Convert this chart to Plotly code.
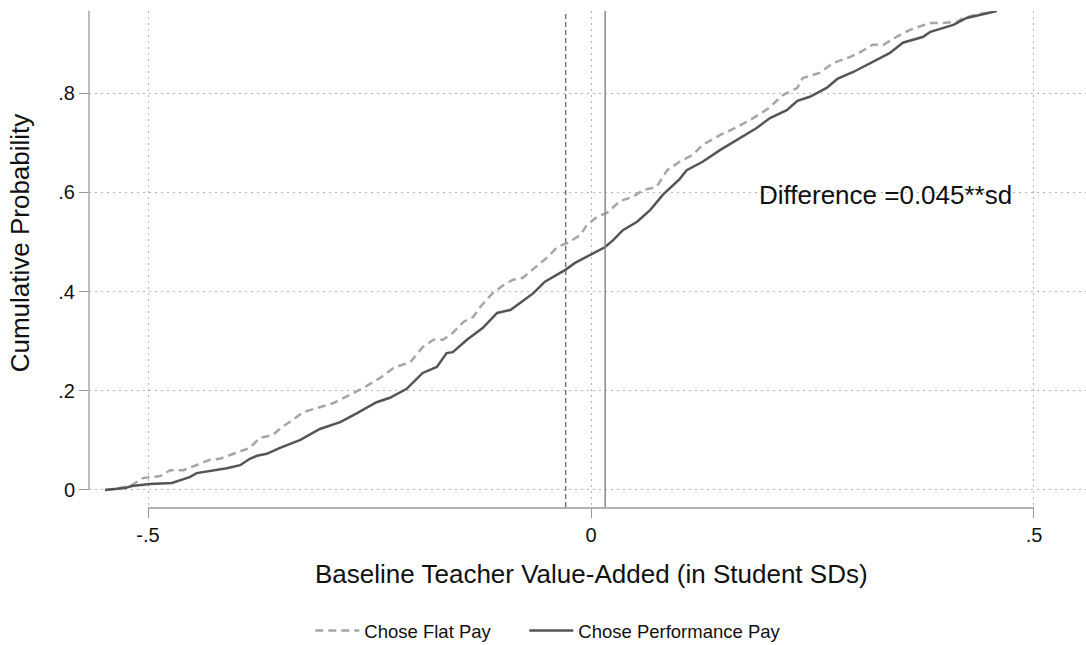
import plotly.graph_objects as go

flat_x = [-0.5485, -0.532, -0.518, -0.506, -0.486, -0.475, -0.460, -0.445, -0.430, -0.419,
          -0.407, -0.396, -0.385, -0.374, -0.359, -0.349, -0.340, -0.325, -0.309, -0.291,
          -0.272, -0.253, -0.238, -0.223, -0.204, -0.190, -0.178, -0.167, -0.156, -0.144,
          -0.133, -0.125, -0.111, -0.099, -0.088, -0.077, -0.065, -0.050, -0.038, -0.027,
          -0.012, -0.005, 0.007, 0.018, 0.033, 0.047, 0.059, 0.074, 0.086, 0.100,
          0.115, 0.126, 0.146, 0.165, 0.183, 0.199, 0.217, 0.233, 0.239, 0.258,
          0.273, 0.292, 0.304, 0.318, 0.330, 0.345, 0.360, 0.383, 0.397, 0.413,
          0.420, 0.439, 0.454]
flat_y = [0.000, 0.004, 0.010, 0.024, 0.028, 0.040, 0.040, 0.050, 0.061, 0.063,
          0.071, 0.077, 0.085, 0.105, 0.111, 0.127, 0.137, 0.157, 0.165, 0.175,
          0.192, 0.210, 0.226, 0.246, 0.258, 0.288, 0.303, 0.303, 0.317, 0.339,
          0.349, 0.369, 0.397, 0.413, 0.424, 0.428, 0.446, 0.468, 0.490, 0.498,
          0.514, 0.534, 0.551, 0.559, 0.583, 0.591, 0.605, 0.611, 0.645, 0.662,
          0.676, 0.696, 0.716, 0.732, 0.750, 0.768, 0.797, 0.811, 0.831, 0.841,
          0.861, 0.873, 0.883, 0.898, 0.898, 0.914, 0.928, 0.942, 0.942, 0.944,
          0.952, 0.960, 0.964]

perf_x = [-0.5485, -0.526, -0.518, -0.498, -0.473, -0.467, -0.453, -0.445, -0.430, -0.411,
          -0.396, -0.385, -0.377, -0.366, -0.351, -0.328, -0.306, -0.283, -0.264, -0.242,
          -0.227, -0.208, -0.190, -0.174, -0.163, -0.156, -0.140, -0.122, -0.106, -0.091,
          -0.077, -0.065, -0.052, -0.038, -0.029, -0.018, -0.001, 0.016, 0.025, 0.036,
          0.052, 0.067, 0.081, 0.093, 0.100, 0.108, 0.126, 0.146, 0.168, 0.187,
          0.202, 0.221, 0.233, 0.247, 0.266, 0.278, 0.296, 0.315, 0.337, 0.352,
          0.375, 0.383, 0.409, 0.424, 0.439, 0.458]
perf_y = [0.000, 0.004, 0.008, 0.012, 0.014, 0.018, 0.026, 0.034, 0.038, 0.044,
          0.050, 0.063, 0.069, 0.073, 0.085, 0.101, 0.123, 0.137, 0.155, 0.177,
          0.186, 0.204, 0.236, 0.248, 0.276, 0.278, 0.303, 0.327, 0.357, 0.363,
          0.381, 0.397, 0.420, 0.434, 0.444, 0.458, 0.474, 0.490, 0.504, 0.524,
          0.541, 0.565, 0.595, 0.615, 0.627, 0.645, 0.662, 0.686, 0.710, 0.730,
          0.750, 0.766, 0.785, 0.793, 0.811, 0.829, 0.843, 0.861, 0.881, 0.902,
          0.914, 0.924, 0.938, 0.952, 0.958, 0.966]

# Group means (vertical reference lines)
mean_flat = -0.0286
mean_perf = 0.016

x_tickvals = [-0.5, 0, 0.5]
x_ticktext = ["-.5", "0", ".5"]
y_tickvals = [0, 0.2, 0.4, 0.6, 0.8]
y_ticktext = ["0", ".2", ".4", ".6", ".8"]

series_names = ["Chose Flat Pay", "Chose Performance Pay"]
annotation_text = "Difference =0.045**sd"
x_title = "Baseline Teacher Value-Added (in Student SDs)"
y_title = "Cumulative Probability"

FONT = "Liberation Sans, Arial, Helvetica, sans-serif"
TXT = "#111111"
GRID = "#b4b4b4"

fig = go.Figure()
fig.add_trace(go.Scatter(x=flat_x, y=flat_y, mode="lines", name=series_names[0],
                         legend="legend",
                         line=dict(color="#a6a6a6", width=2.5, dash="8px,5px")))
fig.add_trace(go.Scatter(x=perf_x, y=perf_y, mode="lines", name=series_names[1],
                         legend="legend2",
                         line=dict(color="#555555", width=2.5)))

XR = [-0.5666, 0.5587]
YR = [-0.0343, 0.966]

legend_common = dict(orientation="h", xanchor="left", y=-0.25, yanchor="middle",
                     font=dict(size=18.5, family=FONT, color=TXT), itemwidth=44,
                     bgcolor="rgba(0,0,0,0)")

fig.update_layout(
    width=1086, height=645,
    margin=dict(l=89, r=0, t=11, b=138, pad=0, autoexpand=False),
    paper_bgcolor="white", plot_bgcolor="white",
    font=dict(family=FONT, color=TXT, size=20),
    showlegend=True,
    legend=dict(x=0.222, **legend_common),
    legend2=dict(x=0.4366, **legend_common),
    xaxis=dict(range=XR, tickvals=x_tickvals, ticktext=x_ticktext, showline=False,
               zeroline=False, showgrid=True, gridcolor=GRID, griddash="1.5px,4.5px", gridwidth=1,
               ticks="outside", ticklen=10, tickcolor="#999999", tickwidth=1.3,
               tickfont=dict(size=20, family=FONT, color=TXT)),
    yaxis=dict(range=YR, tickvals=y_tickvals, ticktext=y_ticktext, showline=False,
               zeroline=False, showgrid=True, gridcolor=GRID, griddash="1.5px,4.5px", gridwidth=1,
               ticks="outside", ticklen=9, tickcolor="#999999", tickwidth=1.3,
               tickfont=dict(size=20, family=FONT, color=TXT)),
)

# axis lines (Stata style, spanning tick range)
fig.add_shape(type="line", xref="x", yref="paper", x0=x_tickvals[0], x1=x_tickvals[-1],
              y0=-0.002, y1=-0.002, line=dict(color="#999999", width=1.3))
fig.add_shape(type="line", xref="paper", yref="y", x0=0, x1=0, y0=0, y1=YR[1],
              line=dict(color="#999999", width=1.3))

# mean lines
fig.add_shape(type="line", xref="x", yref="paper", x0=mean_flat, x1=mean_flat, y0=0, y1=1,
              line=dict(color="#777777", width=1.5, dash="5px,3px"))
fig.add_shape(type="line", xref="x", yref="paper", x0=mean_perf, x1=mean_perf, y0=0, y1=1,
              line=dict(color="#8a8a8a", width=1.5))

fig.add_annotation(x=0.1874, y=0.595, xref="x", yref="y", text=annotation_text,
                   showarrow=False, xanchor="left", yanchor="middle",
                   font=dict(size=26, family=FONT, color=TXT))
fig.add_annotation(x=0.504, y=-0.135, xref="paper", yref="paper", text=x_title,
                   showarrow=False, xanchor="center", yanchor="middle",
                   font=dict(size=26, family=FONT, color=TXT))
fig.add_annotation(x=-0.069, y=0.532, xref="paper", yref="paper", text=y_title,
                   showarrow=False, xanchor="center", yanchor="middle", textangle=-90,
                   font=dict(size=26, family=FONT, color=TXT))

fig.write_html("out.html", config={"displayModeBar": False},
               post_script="document.body.style.margin='0';")
